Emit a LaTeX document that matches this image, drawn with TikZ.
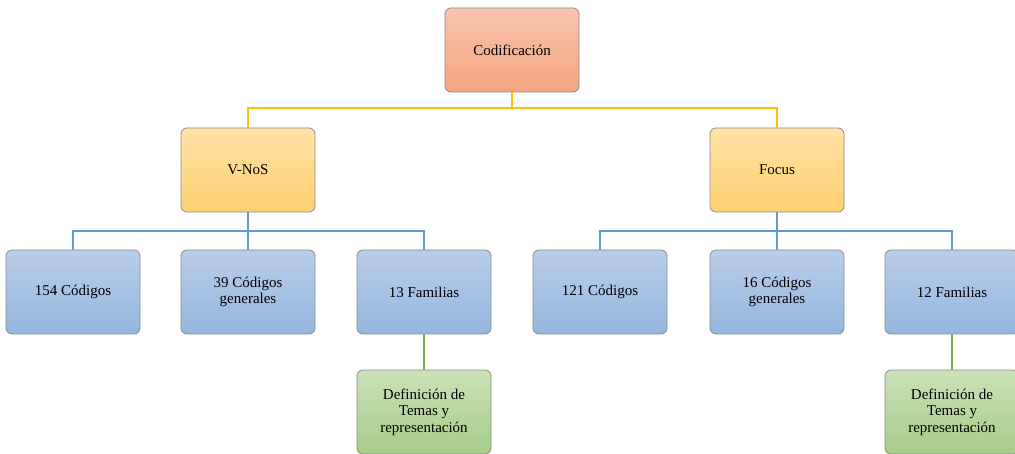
\documentclass[tikz,border=0pt]{standalone}
\usepackage{fontspec}
\setmainfont{Liberation Serif}
\usepackage{xcolor}
\usetikzlibrary{calc}

\definecolor{rojoA}{HTML}{F8C4AE}
\definecolor{rojoB}{HTML}{F3A47F}
\definecolor{amaA}{HTML}{FFE2A6}
\definecolor{amaB}{HTML}{FFD070}
\definecolor{azulA}{HTML}{BACEEA}
\definecolor{azulB}{HTML}{94B6DF}
\definecolor{verdeA}{HTML}{CBE2B8}
\definecolor{verdeB}{HTML}{A5CC88}
\definecolor{borde}{HTML}{8C8C8C}
\definecolor{lineaAma}{HTML}{FFC000}
\definecolor{lineaAzul}{HTML}{5B9BD5}
\definecolor{lineaVerde}{HTML}{70AD47}

\tikzset{
  caja/.style={draw=borde, line width=0.8pt, rounded corners=6pt,
    minimum width=134pt, minimum height=84pt, align=center,
    font=\fontsize{15}{16.5}\selectfont},
  cajaRoja/.style={caja, top color=rojoA, bottom color=rojoB},
  cajaAma/.style={caja, top color=amaA, bottom color=amaB},
  cajaAzul/.style={caja, top color=azulA, bottom color=azulB},
  cajaVerde/.style={caja, top color=verdeA, bottom color=verdeB},
  enlace/.style={line width=2pt}
}

\begin{document}
\begin{tikzpicture}[x=1pt,y=-1pt]
  \useasboundingbox (0,0) rectangle (1015,454);
  \clip (0,0) rectangle (1015,454);

  % conectores
  \coordinate (busCod) at (512,108);
  \coordinate (busV) at (248,231);
  \coordinate (busF) at (777,231);

  % cajas
  \node[cajaRoja] (cod) at (512,50) {Codificación};
  \node[cajaAma] (vnos) at (248,170) {V-NoS};
  \node[cajaAma] (focus) at (777,170) {Focus};

  \node[cajaAzul] (cod154) at (73,292) {154 Códigos};
  \node[cajaAzul] (gen39) at (248,292) {39 Códigos\\generales};
  \node[cajaAzul] (fam13) at (424,292) {13 Familias};
  \node[cajaAzul] (cod121) at (600,292) {121 Códigos};
  \node[cajaAzul] (gen16) at (777,292) {16 Códigos\\generales};
  \node[cajaAzul] (fam12) at (952,292) {12 Familias};

  \node[cajaVerde] (temasV) at (424,412) {Definición de\\Temas y\\representación};
  \node[cajaVerde] (temasF) at (952,412) {Definición de\\Temas y\\representación};

  \draw[enlace, lineaAma] (cod) -- (busCod);
  \draw[enlace, lineaAma] (vnos.north) |- (busCod) -| (focus.north);

  \draw[enlace, lineaAzul] (vnos) -- (busV);
  \draw[enlace, lineaAzul] (cod154.north) |- (busV) -| (fam13.north);
  \draw[enlace, lineaAzul] (busV) -- (gen39);
  \draw[enlace, lineaAzul] (focus) -- (busF);
  \draw[enlace, lineaAzul] (cod121.north) |- (busF) -| (fam12.north);
  \draw[enlace, lineaAzul] (busF) -- (gen16);

  \draw[enlace, lineaVerde] (fam13) -- (temasV);
  \draw[enlace, lineaVerde] (fam12) -- (temasF);
\end{tikzpicture}
\end{document}
